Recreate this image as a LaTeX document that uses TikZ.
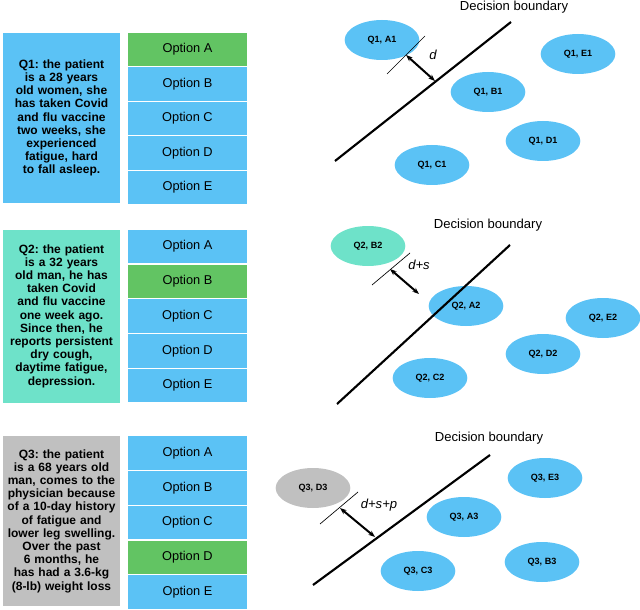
\documentclass[tikz,border=0pt]{standalone}
\usepackage{fontspec}
\setmainfont{Liberation Sans}
\usetikzlibrary{shapes.geometric,arrows.meta}
\definecolor{blu}{HTML}{5BC2F5}
\definecolor{grn}{HTML}{62C463}
\definecolor{tq}{HTML}{6EE2C9}
\definecolor{gry}{HTML}{C0C0C0}
\hyphenpenalty=10000
\exhyphenpenalty=10000
\frenchspacing
\begin{document}
\begin{tikzpicture}[x=0.75pt,y=-0.75pt,
 q/.style={text width=82pt,align=center,inner sep=0pt,font=\bfseries\fontsize{9}{9.9}\selectfont},
 opt/.style={fill=blu,minimum width=89pt,minimum height=25pt,inner sep=0pt,font=\fontsize{9.6}{11}\selectfont},
 el/.style={ellipse,fill=blu,minimum width=56pt,minimum height=30pt,inner sep=0pt,font=\bfseries\fontsize{6.8}{8}\selectfont},
 bd/.style={line width=1.6pt},
 tk/.style={line width=0.5pt},
 ar/.style={line width=1.5pt,{Stealth[length=5pt]}-{Stealth[length=5pt]}},
 ttl/.style={font=\fontsize{9.8}{11}\selectfont},
 lab/.style={font=\itshape\fontsize{9.8}{11}\selectfont}]
\useasboundingbox (0,0) rectangle (640,610);
% panel 1
\fill[blu] (3,33) rectangle (120,203);
\node[q] (q1) at (61.5,118) {Q1: the patient is a 28 years old women, she has taken Covid and flu vaccine two weeks, she experienced fatigue, hard to fall asleep.};
\node[opt,fill=grn] (o1a) at (187.5,49.5) {Option A};
\node[opt] (o1b) at (187.5,84) {Option B};
\node[opt] (o1c) at (187.5,118.5) {Option C};
\node[opt] (o1d) at (187.5,153) {Option D};
\node[opt] (o1e) at (187.5,187.5) {Option E};
\node[ttl] (t1) at (514,7) {Decision boundary};
\node[el] (a1) at (382,40) {Q1, A1};
\node[el] (e1) at (578,54) {Q1, E1};
\node[el] (b1) at (488,92) {Q1, B1};
\node[el] (d1) at (543,141) {Q1, D1};
\node[el] (c1) at (432,165) {Q1, C1};
\coordinate (l1s) at (335,161); \coordinate (l1e) at (511,22);
\draw[bd] (l1s) -- (l1e);
\coordinate (k1s) at (387,74); \coordinate (k1e) at (425,36);
\draw[tk] (k1s) -- (k1e);
\coordinate (r1s) at (406,55); \coordinate (r1e) at (435,81);
\draw[ar] (r1s) -- (r1e);
\node[lab] (dl1) at (433,55) {d};
% panel 2
\fill[tq] (3,230) rectangle (120,403);
\node[q] (q2) at (61.5,316) {Q2: the patient is a 32 years old man, he has taken Covid and flu vaccine one week ago. Since then, he reports persistent dry cough, daytime fatigue, depression.};
\node[opt] (o2a) at (187.5,246.5) {Option A};
\node[opt,fill=grn] (o2b) at (187.5,281.5) {Option B};
\node[opt] (o2c) at (187.5,316) {Option C};
\node[opt] (o2d) at (187.5,351) {Option D};
\node[opt] (o2e) at (187.5,385.5) {Option E};
\node[ttl] (t2) at (488,225) {Decision boundary};
\node[el,fill=tq] (b2) at (368,246) {Q2, B2};
\node[el] (a2) at (466,306) {Q2, A2};
\node[el] (e2) at (603,318) {Q2, E2};
\node[el] (d2) at (543,354) {Q2, D2};
\node[el] (c2) at (430,378) {Q2, C2};
\coordinate (l2s) at (337,404); \coordinate (l2e) at (510,245);
\draw[bd] (l2s) -- (l2e);
\coordinate (k2s) at (372,285); \coordinate (k2e) at (410,253);
\draw[tk] (k2s) -- (k2e);
\coordinate (r2s) at (390,269); \coordinate (r2e) at (419,294);
\draw[ar] (r2s) -- (r2e);
\node[lab] (dl2) at (419,265) {d+s};
% panel 3
\fill[gry] (3,436) rectangle (120,606);
\node[q] (q3) at (61.5,521) {Q3: the patient is a 68 years old man, comes to the physician because of a 10-day history of fatigue and lower leg swelling. Over the past 6 months, he has had a 3.6-kg (8-lb) weight loss};
\node[opt] (o3a) at (187.5,453) {Option A};
\node[opt] (o3b) at (187.5,488) {Option B};
\node[opt] (o3c) at (187.5,522.5) {Option C};
\node[opt,fill=grn] (o3d) at (187.5,557.5) {Option D};
\node[opt] (o3e) at (187.5,592) {Option E};
\node[ttl] (t3) at (489,438) {Decision boundary};
\node[el,fill=gry] (d3) at (313,488) {Q3, D3};
\node[el] (e3) at (545,478) {Q3, E3};
\node[el] (a3) at (464,517) {Q3, A3};
\node[el] (b3) at (542,562) {Q3, B3};
\node[el] (c3) at (418,571) {Q3, C3};
\coordinate (l3s) at (313,585); \coordinate (l3e) at (490,455);
\draw[bd] (l3s) -- (l3e);
\coordinate (k3s) at (320,524); \coordinate (k3e) at (358,492);
\draw[tk] (k3s) -- (k3e);
\coordinate (r3s) at (340,508); \coordinate (r3e) at (375,537);
\draw[ar] (r3s) -- (r3e);
\node[lab] (dl3) at (379,505) {d+s+p};
\end{tikzpicture}
\end{document}
